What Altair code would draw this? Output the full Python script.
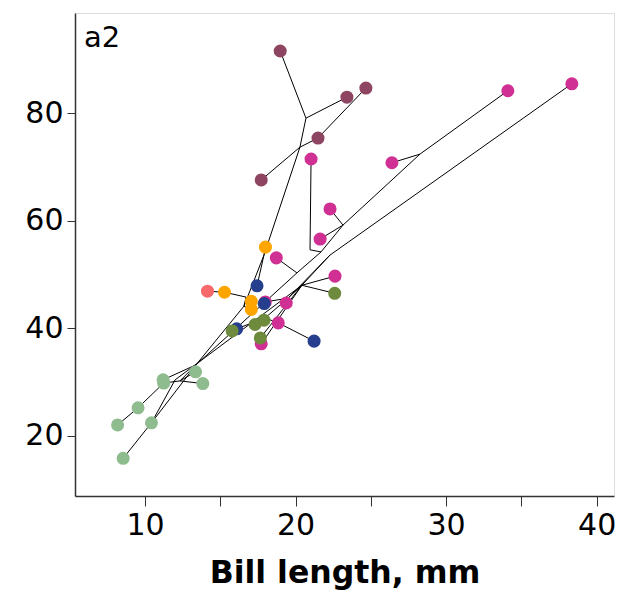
import altair as alt
import pandas as pd

# ---- tips (observed taxa) ----
tip_names = ["m1", "m2", "m3", "m4", "m5",
             "g1", "g2", "g3", "g4", "g5", "g6", "g7", "g8", "g9", "g10", "g11", "g12",
             "o1", "o2", "o3", "o4", "s1",
             "n1", "n2", "n3", "n4",
             "ol1", "ol2", "ol3", "ol4", "ol5",
             "lg1", "lg2", "lg3", "lg4", "lg5", "lg6", "lg7", "lg8"]
tip_x = [18.98, 23.41, 24.67, 21.49, 17.72,
         38.35, 34.10, 26.40, 21.03, 22.29, 21.63, 18.72, 22.62, 17.99, 19.38, 18.85, 17.72,
         18.00, 15.28, 17.06, 17.06, 14.15,
         17.44, 17.92, 16.09, 21.23,
         22.60, 17.31, 17.90, 15.79, 17.66,
         11.20, 11.24, 13.36, 13.84, 9.54, 8.18, 10.43, 8.55]
tip_y = [91.6, 83.0, 84.7, 75.4, 67.6,
         85.5, 84.2, 70.8, 71.5, 62.2, 56.6, 53.1, 49.7, 44.9, 44.7, 41.0, 37.1,
         55.1, 46.7, 45.0, 43.5, 46.9,
         47.9, 44.6, 39.9, 37.6,
         46.5, 40.7, 41.5, 39.5, 38.2,
         30.4, 29.8, 31.9, 29.7, 25.2, 22.0, 22.4, 15.8]
tip_group = ["G1"] * 5 + ["G2"] * 12 + ["G3"] * 4 + ["G4"] + ["G5"] * 4 + ["G6"] * 5 + ["G7"] * 8

# ---- internal (ancestral) nodes ----
node_names = ["A", "C", "I", "J", "K", "E", "G", "F", "F2", "U", "R", "S", "T", "P", "Q", "W", "V"]
node_x = [20.69, 20.29, 17.90, 16.57, 16.71, 28.26, 23.15, 20.96, 21.69, 22.28, 20.09, 20.42, 19.50, 13.39, 12.32, 17.97, 12.0]
node_y = [79.1, 73.7, 53.6, 44.1, 45.8, 72.4, 59.2, 54.6, 54.2, 53.6, 50.3, 48.0, 45.6, 33.2, 30.2, 41.9, 30.4]

# ---- tree edges ----
edge_from = ["A", "A", "A", "C", "C", "m4", "C", "I", "I", "I", "J", "K", "o2", "K", "J",
             "J", "P", "lg2", "lg5", "P", "Q", "Q", "Q", "P", "lg7", "R",
             "E", "E", "E", "G", "G", "G", "g4", "F", "F2", "g1", "U", "R", "S", "S", "S",
             "T", "T", "T", "W", "W", "W", "n3", "g11", "W", "S", "S", "U", "V", "V"]
edge_to = ["m1", "m2", "C", "m5", "m4", "m3", "I", "o1", "n1", "J", "K", "o2", "s1", "o3", "o4",
           "P", "lg1", "lg5", "lg6", "Q", "lg2", "lg4", "lg3", "lg7", "lg8", "P",
           "g2", "g3", "G", "g5", "g6", "F2", "F", "F2", "R", "U", "S", "g7", "g8", "ol1", "T",
           "g10", "g9", "W", "ol2", "ol3", "n3", "ol4", "n4", "g11", "ol5", "g12", "T", "lg7", "S"]

group_names = ["G1", "G2", "G3", "G4", "G5", "G6", "G7"]
group_colors = ["#8E4561", "#D02F93", "#FFA500", "#F8696B", "#253F8E", "#6E8B3D", "#8FBC8F"]

x_ticks = [10, 15, 20, 25, 30, 35, 40]
y_ticks = [20, 40, 60, 80]

pos = {n: (x, y) for n, x, y in zip(tip_names + node_names, tip_x + node_x, tip_y + node_y)}
edges = pd.DataFrame({
    "x": [pos[a][0] for a in edge_from],
    "y": [pos[a][1] for a in edge_from],
    "x2": [pos[b][0] for b in edge_to],
    "y2": [pos[b][1] for b in edge_to],
})
tips = pd.DataFrame({"x": tip_x, "y": tip_y, "group": tip_group})

xs = alt.Scale(domain=[5.35, 41.15], nice=False, zero=False)
ys = alt.Scale(domain=[8.78, 98.67], nice=False, zero=False)

font = "DejaVu Sans"

lines = alt.Chart(edges).mark_rule(color="black", strokeWidth=1).encode(
    x=alt.X("x:Q", scale=xs, title="Bill length, mm",
            axis=alt.Axis(values=x_ticks,
                          labelExpr="datum.value % 10 == 0 ? datum.label : ''",
                          grid=False, tickSize=10, tickColor="#333", domainColor="#333",
                          domainWidth=1.5, labelFontSize=30, labelFont=font, labelColor="black",
                          labelPadding=4, titleFontSize=31.5, titleFont=font, titleFontWeight="bold",
                          titleColor="black", titlePadding=17)),
    y=alt.Y("y:Q", scale=ys, title=None,
            axis=alt.Axis(values=y_ticks, grid=False, tickSize=8, tickColor="#333",
                          domainColor="#333", domainWidth=1.5, labelFontSize=30, labelFont=font,
                          labelColor="black", labelPadding=4)),
    x2="x2:Q",
    y2="y2:Q",
)

points = alt.Chart(tips).mark_circle(size=170, opacity=1).encode(
    x=alt.X("x:Q", scale=xs),
    y=alt.Y("y:Q", scale=ys),
    color=alt.Color("group:N", scale=alt.Scale(domain=group_names, range=group_colors), legend=None),
)

label = alt.Chart(pd.DataFrame({"t": ["a2"]})).mark_text(
    align="left", baseline="alphabetic", fontSize=29, font=font, color="black"
).encode(x=alt.value(9), y=alt.value(34), text="t:N")

chart = alt.layer(lines, points, label).properties(
    width=539, height=483,
    autosize=alt.AutoSizeParams(type="none"),
    padding={"left": 75, "top": 13, "right": 11, "bottom": 105},
).configure_view(stroke="#666", strokeWidth=1).configure(background="white")

chart.save("out.html", embed_options={"renderer": "svg", "actions": False})
